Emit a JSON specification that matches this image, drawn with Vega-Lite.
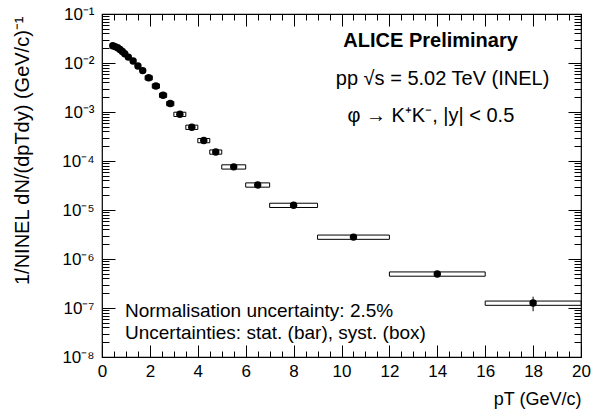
{
  "$schema": "https://vega.github.io/schema/vega-lite/v6.json",
  "width": 479,
  "height": 343,
  "autosize": {"type": "none"},
  "padding": {"left": 102, "top": 14, "right": 11, "bottom": 54},
  "background": "white",
  "config": {
    "view": {"stroke": "black", "strokeWidth": 1.2},
    "axis": {
      "domain": false,
      "grid": false,
      "tickColor": "black",
      "tickWidth": 1,
      "labelColor": "black",
      "titleColor": "black",
      "labelFont": "Liberation Sans",
      "titleFont": "Liberation Sans",
      "labelFontSize": 17,
      "titleFontSize": 18,
      "titleFontWeight": "normal",
      "labelFlush": false,
      "labelOverlap": false,
      "labelBound": false
    },
    "text": {"font": "Liberation Sans", "fill": "black", "strokeWidth": 0}
  },
  "data": {
    "values": [
      {"pt": 0.45, "xlo": 0.4, "xhi": 0.5, "y": 0.0225, "sys_lo": 0.02025, "sys_hi": 0.02475, "stat_lo": 0.0222, "stat_hi": 0.0228},
      {"pt": 0.55, "xlo": 0.5, "xhi": 0.6, "y": 0.0216, "sys_lo": 0.01944, "sys_hi": 0.02376, "stat_lo": 0.0213, "stat_hi": 0.0219},
      {"pt": 0.65, "xlo": 0.6, "xhi": 0.7, "y": 0.0204, "sys_lo": 0.01836, "sys_hi": 0.02244, "stat_lo": 0.0201, "stat_hi": 0.0207},
      {"pt": 0.75, "xlo": 0.7, "xhi": 0.8, "y": 0.0189, "sys_lo": 0.01701, "sys_hi": 0.02079, "stat_lo": 0.0186, "stat_hi": 0.0192},
      {"pt": 0.85, "xlo": 0.8, "xhi": 0.9, "y": 0.0172, "sys_lo": 0.01548, "sys_hi": 0.01892, "stat_lo": 0.0169, "stat_hi": 0.0175},
      {"pt": 0.95, "xlo": 0.9, "xhi": 1.0, "y": 0.0155, "sys_lo": 0.01395, "sys_hi": 0.01705, "stat_lo": 0.0152, "stat_hi": 0.0158},
      {"pt": 1.1, "xlo": 1.0, "xhi": 1.2, "y": 0.0132, "sys_lo": 0.01188, "sys_hi": 0.01452, "stat_lo": 0.0130, "stat_hi": 0.0134},
      {"pt": 1.3, "xlo": 1.2, "xhi": 1.4, "y": 0.0110, "sys_lo": 0.0099, "sys_hi": 0.0121, "stat_lo": 0.0108, "stat_hi": 0.0112},
      {"pt": 1.5, "xlo": 1.4, "xhi": 1.6, "y": 0.0087, "sys_lo": 0.00783, "sys_hi": 0.00957, "stat_lo": 0.00855, "stat_hi": 0.00885},
      {"pt": 1.7, "xlo": 1.6, "xhi": 1.8, "y": 0.0070, "sys_lo": 0.0063, "sys_hi": 0.0077, "stat_lo": 0.00688, "stat_hi": 0.00712},
      {"pt": 1.95, "xlo": 1.8, "xhi": 2.1, "y": 0.0050, "sys_lo": 0.0045, "sys_hi": 0.0055, "stat_lo": 0.00491, "stat_hi": 0.00509},
      {"pt": 2.25, "xlo": 2.1, "xhi": 2.4, "y": 0.0034, "sys_lo": 0.00306, "sys_hi": 0.00374, "stat_lo": 0.00334, "stat_hi": 0.00346},
      {"pt": 2.55, "xlo": 2.4, "xhi": 2.7, "y": 0.0022, "sys_lo": 0.00198, "sys_hi": 0.00242, "stat_lo": 0.00216, "stat_hi": 0.00224},
      {"pt": 2.85, "xlo": 2.7, "xhi": 3.0, "y": 0.00149, "sys_lo": 0.001341, "sys_hi": 0.001639, "stat_lo": 0.001462, "stat_hi": 0.001518},
      {"pt": 3.25, "xlo": 3.0, "xhi": 3.5, "y": 0.0009, "sys_lo": 0.00081, "sys_hi": 0.00099, "stat_lo": 0.000882, "stat_hi": 0.000918},
      {"pt": 3.75, "xlo": 3.5, "xhi": 4.0, "y": 0.00049, "sys_lo": 0.000441, "sys_hi": 0.000539, "stat_lo": 0.00048, "stat_hi": 0.0005},
      {"pt": 4.25, "xlo": 4.0, "xhi": 4.5, "y": 0.000262, "sys_lo": 0.0002358, "sys_hi": 0.0002882, "stat_lo": 0.000256, "stat_hi": 0.000268},
      {"pt": 4.75, "xlo": 4.5, "xhi": 5.0, "y": 0.000153, "sys_lo": 0.0001377, "sys_hi": 0.0001683, "stat_lo": 0.000149, "stat_hi": 0.000157},
      {"pt": 5.5, "xlo": 5.0, "xhi": 6.0, "y": 0.000076, "sys_lo": 0.0000684, "sys_hi": 0.0000836, "stat_lo": 0.000074, "stat_hi": 0.000078},
      {"pt": 6.5, "xlo": 6.0, "xhi": 7.0, "y": 0.0000325, "sys_lo": 0.00002925, "sys_hi": 0.00003575, "stat_lo": 0.0000315, "stat_hi": 0.0000335},
      {"pt": 8.0, "xlo": 7.0, "xhi": 9.0, "y": 0.0000125, "sys_lo": 0.00001125, "sys_hi": 0.00001375, "stat_lo": 0.000012, "stat_hi": 0.000013},
      {"pt": 10.5, "xlo": 9.0, "xhi": 12.0, "y": 0.0000028, "sys_lo": 0.00000252, "sys_hi": 0.00000308, "stat_lo": 0.00000265, "stat_hi": 0.00000295},
      {"pt": 14.0, "xlo": 12.0, "xhi": 16.0, "y": 0.000000495, "sys_lo": 0.0000004455, "sys_hi": 0.0000005445, "stat_lo": 0.00000045, "stat_hi": 0.00000054},
      {"pt": 18.0, "xlo": 16.0, "xhi": 20.0, "y": 0.000000126, "sys_lo": 0.0000001134, "sys_hi": 0.0000001386, "stat_lo": 0.000000086, "stat_hi": 0.00000017}
    ]
  },
  "resolve": {"axis": {"x": "independent", "y": "independent"}},
  "layer": [
    {
      "mark": {"type": "rect", "fill": "white", "stroke": "black", "strokeWidth": 1},
      "encoding": {
        "x": {"field": "xlo", "type": "quantitative",
          "scale": {"domain": [0, 20], "nice": false, "zero": false},
          "axis": {"orient": "bottom", "values": [0, 2, 4, 6, 8, 10, 12, 14, 16, 18, 20], "tickSize": -12, "labelPadding": 18, "format": "d",
            "title": "pT (GeV/c)", "titleAnchor": "end", "titleAlign": "right", "titleX": 479, "titleY": 47, "titleBaseline": "alphabetic"}},
        "x2": {"field": "xhi"},
        "y": {"field": "sys_lo", "type": "quantitative",
          "scale": {"type": "log", "domain": [1e-8, 0.1], "nice": false},
          "axis": {"orient": "left", "values": [1e-8, 1e-7, 1e-6, 1e-5, 1e-4, 1e-3, 1e-2, 1e-1], "tickSize": -13, "labelPadding": 21,
            "labelExpr": "'10⁻' + ['⁰','¹','²','³','⁴','⁵','⁶','⁷','⁸','⁹'][-round(log(datum.value)/LN10)]",
            "title": "1/NINEL dN/(dpTdy) (GeV/c)⁻¹", "titleFontSize": 20, "titleAngle": -90, "titleAlign": "right", "titleBaseline": "bottom", "titleX": -70, "titleY": 2}},
        "y2": {"field": "sys_hi"}
      }
    },
    {
      "mark": {"type": "rule", "color": "black", "strokeWidth": 1},
      "encoding": {
        "x": {"field": "pt", "type": "quantitative",
          "scale": {"domain": [0, 20], "nice": false, "zero": false},
          "axis": {"orient": "top", "values": [0, 2, 4, 6, 8, 10, 12, 14, 16, 18, 20], "tickSize": -12, "labels": false, "title": null}},
        "y": {"field": "stat_lo", "type": "quantitative",
          "scale": {"type": "log", "domain": [1e-8, 0.1], "nice": false},
          "axis": {"orient": "right", "values": [1e-8, 1e-7, 1e-6, 1e-5, 1e-4, 1e-3, 1e-2, 1e-1], "tickSize": -13, "labels": false, "title": null}},
        "y2": {"field": "stat_hi"}
      }
    },
    {
      "mark": {"type": "circle", "color": "black", "opacity": 1, "size": 55},
      "encoding": {
        "x": {"field": "pt", "type": "quantitative",
          "scale": {"domain": [0, 20], "nice": false, "zero": false},
          "axis": {"orient": "bottom", "values": [0.5, 1, 1.5, 2.5, 3, 3.5, 4.5, 5, 5.5, 6.5, 7, 7.5, 8.5, 9, 9.5, 10.5, 11, 11.5, 12.5, 13, 13.5, 14.5, 15, 15.5, 16.5, 17, 17.5, 18.5, 19, 19.5], "tickSize": -6, "labels": false, "title": null}},
        "y": {"field": "y", "type": "quantitative",
          "scale": {"type": "log", "domain": [1e-8, 0.1], "nice": false},
          "axis": {"orient": "left", "values": [2e-8, 3e-8, 4e-8, 5e-8, 6e-8, 7e-8, 8e-8, 9e-8, 2e-7, 3e-7, 4e-7, 5e-7, 6e-7, 7e-7, 8e-7, 9e-7, 2e-6, 3e-6, 4e-6, 5e-6, 6e-6, 7e-6, 8e-6, 9e-6, 2e-5, 3e-5, 4e-5, 5e-5, 6e-5, 7e-5, 8e-5, 9e-5, 2e-4, 3e-4, 4e-4, 5e-4, 6e-4, 7e-4, 8e-4, 9e-4, 2e-3, 3e-3, 4e-3, 5e-3, 6e-3, 7e-3, 8e-3, 9e-3, 2e-2, 3e-2, 4e-2, 5e-2, 6e-2, 7e-2, 8e-2, 9e-2], "tickSize": -7, "labels": false, "title": null}}
      }
    },
    {
      "mark": {"type": "circle", "opacity": 0},
      "encoding": {
        "x": {"field": "pt", "type": "quantitative",
          "scale": {"domain": [0, 20], "nice": false, "zero": false},
          "axis": {"orient": "top", "values": [0.5, 1, 1.5, 2.5, 3, 3.5, 4.5, 5, 5.5, 6.5, 7, 7.5, 8.5, 9, 9.5, 10.5, 11, 11.5, 12.5, 13, 13.5, 14.5, 15, 15.5, 16.5, 17, 17.5, 18.5, 19, 19.5], "tickSize": -6, "labels": false, "title": null}},
        "y": {"field": "y", "type": "quantitative",
          "scale": {"type": "log", "domain": [1e-8, 0.1], "nice": false},
          "axis": {"orient": "right", "values": [2e-8, 3e-8, 4e-8, 5e-8, 6e-8, 7e-8, 8e-8, 9e-8, 2e-7, 3e-7, 4e-7, 5e-7, 6e-7, 7e-7, 8e-7, 9e-7, 2e-6, 3e-6, 4e-6, 5e-6, 6e-6, 7e-6, 8e-6, 9e-6, 2e-5, 3e-5, 4e-5, 5e-5, 6e-5, 7e-5, 8e-5, 9e-5, 2e-4, 3e-4, 4e-4, 5e-4, 6e-4, 7e-4, 8e-4, 9e-4, 2e-3, 3e-3, 4e-3, 5e-3, 6e-3, 7e-3, 8e-3, 9e-3, 2e-2, 3e-2, 4e-2, 5e-2, 6e-2, 7e-2, 8e-2, 9e-2], "tickSize": -7, "labels": false, "title": null}}
      }
    },
    {
      "data": {"values": [{"label": "ALICE Preliminary"}]},
      "mark": {"type": "text", "fontSize": 20, "fontWeight": "bold", "align": "center", "baseline": "alphabetic", "fill": "black", "strokeWidth": 0},
      "encoding": {
        "x": {"datum": 13.72, "type": "quantitative", "axis": null},
        "y": {"datum": 0.02153, "type": "quantitative", "axis": null},
        "text": {"field": "label"}
      }
    },
    {
      "data": {"values": [{"label": "pp √s = 5.02 TeV (INEL)"}]},
      "mark": {"type": "text", "fontSize": 20, "fontWeight": "normal", "align": "center", "baseline": "alphabetic", "fill": "black", "strokeWidth": 0},
      "encoding": {
        "x": {"datum": 14.22, "type": "quantitative", "axis": null},
        "y": {"datum": 0.00351, "type": "quantitative", "axis": null},
        "text": {"field": "label"}
      }
    },
    {
      "data": {"values": [{"label": "φ → K⁺K⁻, |y| < 0.5"}]},
      "mark": {"type": "text", "fontSize": 20, "fontWeight": "normal", "align": "center", "baseline": "alphabetic", "fill": "black", "strokeWidth": 0},
      "encoding": {
        "x": {"datum": 13.73, "type": "quantitative", "axis": null},
        "y": {"datum": 0.000625, "type": "quantitative", "axis": null},
        "text": {"field": "label"}
      }
    },
    {
      "data": {"values": [{"label": "Normalisation uncertainty: 2.5%"}]},
      "mark": {"type": "text", "fontSize": 19, "fontWeight": "normal", "align": "left", "baseline": "alphabetic", "fill": "black", "strokeWidth": 0},
      "encoding": {
        "x": {"datum": 0.96, "type": "quantitative", "axis": null},
        "y": {"datum": 6.55e-8, "type": "quantitative", "axis": null},
        "text": {"field": "label"}
      }
    },
    {
      "data": {"values": [{"label": "Uncertainties: stat. (bar), syst. (box)"}]},
      "mark": {"type": "text", "fontSize": 19, "fontWeight": "normal", "align": "left", "baseline": "alphabetic", "fill": "black", "strokeWidth": 0},
      "encoding": {
        "x": {"datum": 0.96, "type": "quantitative", "axis": null},
        "y": {"datum": 2.33e-8, "type": "quantitative", "axis": null},
        "text": {"field": "label"}
      }
    }
  ]
}
